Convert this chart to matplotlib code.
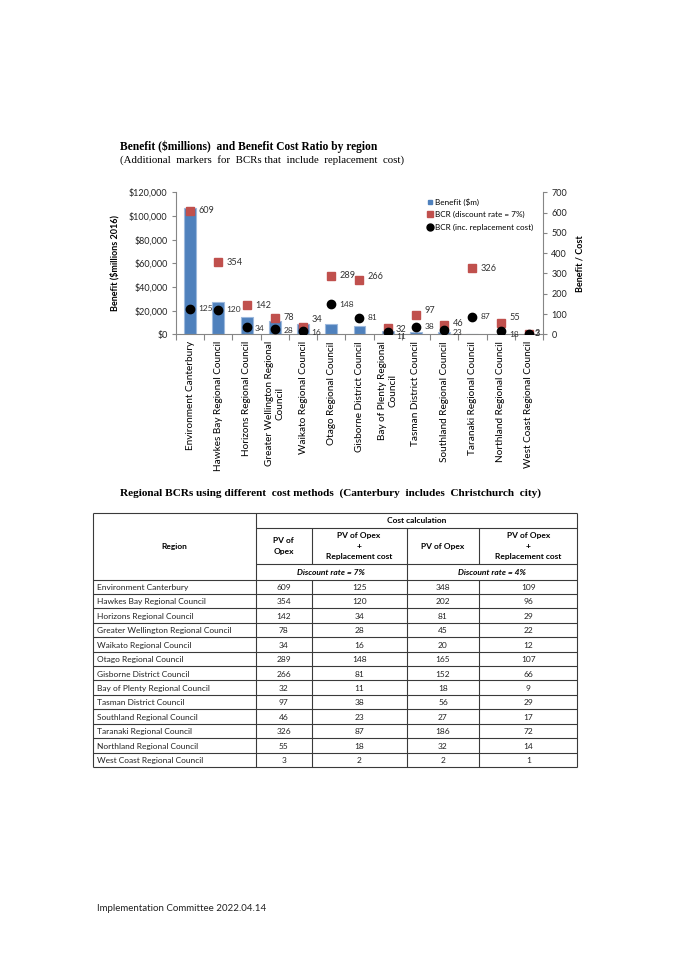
import matplotlib
matplotlib.use("Agg")
import matplotlib.pyplot as plt
from matplotlib.lines import Line2D
from matplotlib.ticker import FuncFormatter, FixedLocator
import numpy as np

# ---------------- data ----------------
regions = ["Environment Canterbury", "Hawkes Bay Regional Council", "Horizons Regional Council",
           "Greater Wellington Regional Council", "Waikato Regional Council", "Otago Regional Council",
           "Gisborne District Council", "Bay of Plenty Regional Council", "Tasman District Council",
           "Southland Regional Council", "Taranaki Regional Council", "Northland Regional Council",
           "West Coast Regional Council"]
chart_labels = ["Environment Canterbury", "Hawkes Bay Regional Council", "Horizons Regional Council",
                "Greater Wellington Regional\nCouncil", "Waikato Regional Council", "Otago Regional Council",
                "Gisborne District Council", "Bay of Plenty Regional\nCouncil", "Tasman District Council",
                "Southland Regional Council", "Taranaki Regional Council", "Northland Regional Council",
                "West Coast Regional Council"]
benefit = [106500, 27000, 14500, 11000, 8500, 9000, 6800, 3100, 2200, 2200, 300, 400, 200]
bcr7 = [609, 354, 142, 78, 34, 289, 266, 32, 97, 46, 326, 55, 3]
bcr7_repl = [125, 120, 34, 28, 16, 148, 81, 11, 38, 23, 87, 18, 2]
bcr4 = [348, 202, 81, 45, 20, 165, 152, 18, 56, 27, 186, 32, 2]
bcr4_repl = [109, 96, 29, 22, 12, 107, 66, 9, 29, 17, 72, 14, 1]

left_ticks = [0, 20000, 40000, 60000, 80000, 100000, 120000]
right_ticks = [0, 100, 200, 300, 400, 500, 600, 700]

# label offsets (points) for data labels
red_off = [(6, 0), (6, 0), (6, 0), (6, 1), (6, 6), (6, 0), (6, 3), (6, -1), (6, 3), (6, 1), (6, 0), (6, 4), (4, 0)]
blk_off = [(6, 0), (6, 0), (6, -1), (6, -1), (6, -1), (6, 0), (6, 0), (6, -3), (6, 0), (6, -2), (6, 0), (6, -3), (4, 0)]

FONT = "Lato"
SERIF = "Liberation Serif"
GREY = "#868686"
BLUE = "#4F81BD"
RED = "#C0504D"

fig = plt.figure(figsize=(6.75, 9.55), dpi=100)
W, H = 675.0, 955.0

# ---------------- titles ----------------
fig.text(120 / W, 1 - 147 / H, "Benefit ($millions)  and Benefit Cost Ratio by region",
         family=SERIF, fontweight="bold", fontsize=8.3, va="center", ha="left")
fig.text(120 / W, 1 - 160 / H, "(Additional  markers  for  BCRs that  include  replacement  cost)",
         family=SERIF, fontsize=7.85, va="center", ha="left")

# ---------------- chart ----------------
x0, x1, ytop, ybot = 176, 543, 192.3, 334.3
ax = fig.add_axes([x0 / W, 1 - ybot / H, (x1 - x0) / W, (ybot - ytop) / H])
x = np.arange(len(regions))
ax.bar(x, benefit, width=0.42, color=BLUE, edgecolor="#9DB9DD", linewidth=0.8, zorder=2)
ax.set_xlim(-0.5, len(regions) - 0.5)
ax.set_ylim(0, 120000)
ax.set_yticks(left_ticks)
ax.yaxis.set_major_formatter(FuncFormatter(lambda v, p: "${:,.0f}".format(v)))
ax.set_xticks(x)
ax.set_xticklabels(chart_labels, rotation=90, fontsize=7.2, family=FONT, ha="center", va="top")
ax.xaxis.set_minor_locator(FixedLocator(np.arange(-0.5, len(regions), 1.0)))
ax.tick_params(axis="x", which="major", length=0, pad=5)
ax.tick_params(axis="x", which="minor", length=4, color=GREY, width=0.8)
ax.tick_params(axis="y", length=3, color=GREY, width=0.8, labelsize=6.5, pad=3)
for t in ax.get_yticklabels():
    t.set_family(FONT)
    t.set_color("#222222")
for s in ["top", "right"]:
    ax.spines[s].set_visible(False)
for s in ["left", "bottom"]:
    ax.spines[s].set_color(GREY)
    ax.spines[s].set_linewidth(0.8)
ax.set_ylabel("Benefit ($millions 2016)", family=FONT, fontweight="bold", fontsize=6.5, labelpad=7)

ax2 = ax.twinx()
ax2.set_ylim(0, 700)
ax2.set_yticks(right_ticks)
ax2.plot(x, bcr7, ls="none", marker="s", ms=5.2, color=RED, zorder=3)
ax2.plot(x, bcr7_repl, ls="none", marker="o", ms=6, color="black", zorder=4)
for i in range(len(regions)):
    ax2.annotate(str(bcr7[i]), (x[i], bcr7[i]), xytext=red_off[i], textcoords="offset points",
                 fontsize=6.6, family=FONT, color="#333333", va="center", ha="left", zorder=5)
    ax2.annotate(str(bcr7_repl[i]), (x[i], bcr7_repl[i]), xytext=blk_off[i], textcoords="offset points",
                 fontsize=6.0, family=FONT, color="#333333", va="center", ha="left", zorder=5)
ax2.tick_params(axis="y", length=3, color=GREY, width=0.8, labelsize=6.5, pad=3)
for t in ax2.get_yticklabels():
    t.set_family(FONT)
    t.set_color("#222222")
for s in ["top", "left", "bottom"]:
    ax2.spines[s].set_visible(False)
ax2.spines["right"].set_color(GREY)
ax2.spines["right"].set_linewidth(0.8)
ax2.set_ylabel("Benefit / Cost", family=FONT, fontweight="bold", fontsize=6.5, labelpad=6)

handles = [Line2D([], [], ls="none", marker="s", ms=3.5, color=BLUE),
           Line2D([], [], ls="none", marker="s", ms=5, color=RED),
           Line2D([], [], ls="none", marker="o", ms=5, color="black")]
leg = ax2.legend(handles, ["Benefit ($m)", "BCR (discount rate = 7%)", "BCR (inc. replacement cost)"],
                 loc="upper left", bbox_to_anchor=(424 / W, 1 - 194 / H), bbox_transform=fig.transFigure,
                 frameon=False, handlelength=0.5, handletextpad=0.3, labelspacing=0.65,
                 borderpad=0, prop={"family": FONT, "size": 5.9})

# ---------------- second title ----------------
fig.text(331 / W, 1 - 493 / H,
         "Regional BCRs using different  cost methods  (Canterbury  includes  Christchurch  city)",
         family=SERIF, fontweight="bold", fontsize=8.1, va="center", ha="center")

# ---------------- table ----------------
tax = fig.add_axes([0, 0, 1, 1])
tax.set_xlim(0, W)
tax.set_ylim(H, 0)
tax.axis("off")
tax.patch.set_visible(False)

cx = [92.7, 256, 311.5, 406.7, 479.3, 577.3]
y_top, y_cc, y_hdr, y_disc = 513.3, 527.7, 563.5, 579.5
rh = (767.0 - y_disc) / len(regions)
y_bot = y_disc + rh * len(regions)
LC = "#3a3a3a"
lw = 0.8

def hl(y, xa, xb):
    tax.plot([xa, xb], [y, y], color=LC, lw=lw, solid_capstyle="butt")

def vl(xp, ya, yb):
    tax.plot([xp, xp], [ya, yb], color=LC, lw=lw, solid_capstyle="butt")

hl(y_top, cx[0], cx[5])
hl(y_cc, cx[1], cx[5])
hl(y_hdr, cx[1], cx[5])
for k in range(len(regions) + 1):
    hl(y_disc + k * rh, cx[0], cx[5])
vl(cx[0], y_top, y_bot)
vl(cx[5], y_top, y_bot)
vl(cx[1], y_top, y_bot)
vl(cx[3], y_cc, y_bot)
vl(cx[2], y_cc, y_hdr)
vl(cx[4], y_cc, y_hdr)
vl(cx[2], y_disc, y_bot)
vl(cx[4], y_disc, y_bot)

fs = 6.0
tax.text((cx[1] + cx[5]) / 2, (y_top + y_cc) / 2, "Cost calculation", family=FONT, fontweight="bold",
         fontsize=fs, ha="center", va="center")
tax.text((cx[0] + cx[1]) / 2, 546.5, "Region", family=FONT, fontweight="bold", fontsize=fs,
         ha="center", va="center")
hdrs = ["PV of\nOpex", "PV of Opex\n+\nReplacement cost", "PV of Opex", "PV of Opex\n+\nReplacement cost"]
for j, h in enumerate(hdrs):
    tax.text((cx[j + 1] + cx[j + 2]) / 2, (y_cc + y_hdr) / 2 + 0.5, h, family=FONT, fontweight="bold",
             fontsize=fs, ha="center", va="center", linespacing=1.55, multialignment="center")
tax.text((cx[1] + cx[3]) / 2, (y_hdr + y_disc) / 2 + 0.5, "Discount rate = 7%", family=FONT,
         fontweight="bold", style="italic", fontsize=fs, ha="center", va="center")
tax.text((cx[3] + cx[5]) / 2, (y_hdr + y_disc) / 2 + 0.5, "Discount rate = 4%", family=FONT,
         fontweight="bold", style="italic", fontsize=fs, ha="center", va="center")

cols = [bcr7, bcr7_repl, bcr4, bcr4_repl]
for i, r in enumerate(regions):
    yc = y_disc + rh * (i + 0.5) + 0.8
    tax.text(cx[0] + 4, yc, r, family=FONT, fontsize=fs, ha="left", va="center", color="#222222")
    for j, col in enumerate(cols):
        tax.text((cx[j + 1] + cx[j + 2]) / 2, yc, str(col[i]), family=FONT, fontsize=fs,
                 ha="center", va="center", color="#222222")

# ---------------- footer ----------------
fig.text(97 / W, 1 - 908 / H, "Implementation Committee 2022.04.14", family=FONT, fontsize=7.0,
         va="center", ha="left", color="#222222")

fig.savefig("out.png", dpi=100)
